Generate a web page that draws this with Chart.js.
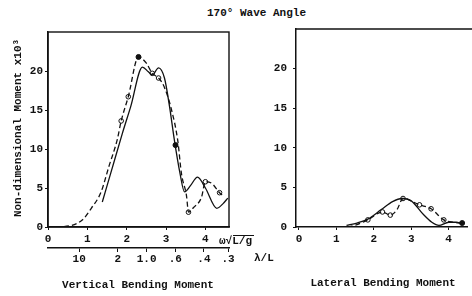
<!DOCTYPE html>
<html>
<head>
<meta charset="utf-8">
<script src="https://cdn.jsdelivr.net/npm/chart.js@4"></script>
<style>
  body { margin: 0; background: #fff; }
  #wrap { position: relative; width: 472px; height: 296px; overflow: hidden; }
  #title { position: absolute; left: 207px; top: 7px; font: bold 11px "Liberation Mono", monospace; color: #111; white-space: pre; }
  canvas { position: absolute; top: 0; }
  #vert { left: 0; }
  #lat { left: 240px; }
</style>
</head>
<body>
<div id="wrap">
  <div id="title">170° Wave Angle</div>
  <canvas id="vert" width="280" height="296"></canvas>
  <canvas id="lat" width="232" height="296"></canvas>
</div>
<script>
// Vertical bending moment - calculated (solid)
const vertCalcX = [1.38, 1.6, 1.89, 2.1, 2.4, 2.55, 2.65, 2.81, 2.96, 3.09, 3.21, 3.35, 3.47, 3.62, 3.8, 4.0, 4.29, 4.45, 4.57];
const vertCalcY = [3.2, 7.0, 12.0, 15.4, 20.5, 19.9, 19.5, 20.4, 19.1, 15.4, 11.2, 7.0, 4.5, 5.3, 6.4, 5.0, 2.4, 3.0, 3.7];
// Vertical bending moment - dashed curve
const vertTestX = [0, 0.4, 0.87, 1.1, 1.35, 1.55, 1.76, 1.86, 2.04, 2.3, 2.5, 2.65, 2.81, 2.95, 3.14, 3.3, 3.39, 3.52, 3.57, 3.7, 3.9, 4.0, 4.16, 4.36, 4.45];
const vertTestY = [0, 0.05, 0.9, 2.4, 4.5, 7.8, 11.2, 13.6, 16.7, 21.8, 21.0, 19.7, 19.1, 18.0, 15.0, 11.0, 6.9, 4.0, 1.9, 2.5, 3.8, 5.8, 5.6, 4.4, 4.0];
// measured points
const vertOpenX = [1.86, 2.04, 2.65, 2.81, 3.57, 4.0, 4.36];
const vertOpenY = [13.6, 16.7, 19.7, 19.1, 1.9, 5.8, 4.4];
const vertDotX = [2.3, 3.24];
const vertDotY = [21.8, 10.5];

// Lateral bending moment
const latCalcX = [1.27, 1.55, 1.84, 2.2, 2.5, 2.75, 3.0, 3.32, 3.55, 3.74, 4.0, 4.2, 4.36];
const latCalcY = [0.2, 0.5, 1.0, 2.2, 3.2, 3.6, 3.3, 1.6, 0.6, 0.2, 0.6, 0.6, 0.4];
const latTestX = [1.3, 1.55, 1.84, 2.23, 2.44, 2.62, 2.78, 3.22, 3.53, 3.87, 4.13, 4.36];
const latTestY = [0, 0.3, 0.9, 1.9, 1.5, 2.2, 3.6, 2.8, 2.3, 0.9, 0.6, 0.5];
const latOpenX = [1.84, 2.23, 2.44, 2.78, 3.22, 3.53, 3.87];
const latOpenY = [0.9, 1.9, 1.5, 3.6, 2.8, 2.3, 0.9];
const latDotX = [4.36];
const latDotY = [0.5];

// axis ticks
const freqTicks = [0, 1, 2, 3, 4];
const momentTicks = [0, 5, 10, 15, 20];
const lambdaVals = [10, 2, 1.0, 0.6, 0.4, 0.3];
const lambdaLabels = ['10', '2', '1.0', '.6', '.4', '.3'];

const INK = '#111';
const MONO = '"Liberation Mono", monospace';
Chart.defaults.font.family = MONO;
Chart.defaults.font.size = 11;
Chart.defaults.font.weight = 'bold';
Chart.defaults.color = INK;

function pts(xs, ys) {
    return xs.map((x, i) => ({ x: x, y: ys[i] }));
}

function makeDatasets(cx, cy, tx, ty, ox, oy, dx, dy) {
    return [
        { data: pts(cx, cy), borderColor: INK, borderWidth: 1.3, pointRadius: 0, cubicInterpolationMode: 'monotone', xAxisID: 'x' },
        { data: pts(tx, ty), borderColor: INK, borderWidth: 1.3, borderDash: [5, 3], pointRadius: 0, cubicInterpolationMode: 'monotone', xAxisID: 'x' },
        { type: 'scatter', data: pts(ox, oy), borderColor: INK, borderWidth: 1, pointRadius: 2.3, pointBackgroundColor: '#fff', xAxisID: 'x' },
        { type: 'scatter', data: pts(dx, dy), borderColor: INK, borderWidth: 1, pointRadius: 2.5, pointBackgroundColor: INK, xAxisID: 'x' }
    ];
}

function xAxis(min, max) {
    return {
        type: 'linear', position: 'bottom', min: min, max: max, weight: 0,
        border: { display: true, color: INK, width: 1.5 },
        grid: { drawOnChartArea: false, drawTicks: true, tickLength: 3, color: INK },
        ticks: { padding: 3, maxRotation: 0, autoSkip: false, callback: v => String(v) },
        afterBuildTicks: s => { s.ticks = freqTicks.map(v => ({ value: v })); },
        afterFit: s => { s.height = 21; }
    };
}

function yAxis(width, pad) {
    return {
        min: 0, max: 25,
        border: { display: true, color: INK, width: 1.5 },
        grid: { drawOnChartArea: false, drawTicks: true, tickLength: 3, color: INK },
        ticks: { padding: pad, callback: v => String(v) },
        afterBuildTicks: s => { s.ticks = momentTicks.map(v => ({ value: v })); },
        afterFit: s => { s.width = width; }
    };
}

const vertExtras = {
    id: 'vertExtras',
    afterDraw(chart) {
        const ctx = chart.ctx;
        const a = chart.chartArea;
        ctx.save();
        ctx.strokeStyle = INK;
        ctx.lineWidth = 1.4;
        ctx.strokeRect(a.left, a.top, a.right - a.left, a.bottom - a.top);
        ctx.fillStyle = INK;
        ctx.font = 'bold 11px ' + MONO;
        ctx.textBaseline = 'middle';
        // y title
        ctx.save();
        ctx.translate(18, 128);
        ctx.rotate(-Math.PI / 2);
        ctx.textAlign = 'center';
        ctx.fillText('Non-dimensional Moment x10³', 0, 0);
        ctx.restore();
        // axis names
        ctx.textAlign = 'left';
        ctx.fillText('ω√L/g', 219, 241);
        ctx.lineWidth = 1;
        ctx.beginPath();
        ctx.moveTo(233, 235.5);
        ctx.lineTo(254, 235.5);
        ctx.stroke();
        ctx.fillText('λ/L', 254, 258);
        ctx.textAlign = 'center';
        ctx.fillText('Vertical Bending Moment', 138, 285);
        ctx.restore();
    }
};

const latExtras = {
    id: 'latExtras',
    afterDraw(chart) {
        const ctx = chart.ctx;
        const a = chart.chartArea;
        ctx.save();
        ctx.strokeStyle = INK;
        ctx.lineWidth = 1.4;
        ctx.beginPath();
        ctx.moveTo(a.left, a.top);
        ctx.lineTo(chart.width, a.top);
        ctx.stroke();
        ctx.fillStyle = INK;
        ctx.font = 'bold 11px ' + MONO;
        ctx.textBaseline = 'middle';
        ctx.textAlign = 'center';
        ctx.fillText('Lateral Bending Moment', 143, 283);
        ctx.restore();
    }
};

new Chart(document.getElementById('vert'), {
    type: 'line',
    data: { datasets: makeDatasets(vertCalcX, vertCalcY, vertTestX, vertTestY, vertOpenX, vertOpenY, vertDotX, vertDotY) },
    options: {
        responsive: false,
        animation: false,
        layout: { padding: { top: 32, right: 51, bottom: 28, left: 0 } },
        plugins: { legend: { display: false }, tooltip: { enabled: false } },
        scales: {
            x: xAxis(0, 4.6),
            x2: {
                type: 'linear', position: 'bottom', min: 0, max: 4.6, weight: 1,
                border: { display: true, color: INK, width: 1.5 },
                grid: { drawOnChartArea: false, drawTicks: true, tickLength: 4, color: INK },
                ticks: { padding: 1, maxRotation: 0, autoSkip: false, callback: (v, i) => lambdaLabels[i] },
                afterBuildTicks: s => { s.ticks = lambdaVals.map(l => ({ value: Math.sqrt(2 * Math.PI / l) })); },
                afterFit: s => { s.height = 20; }
            },
            y: yAxis(48, 2)
        }
    },
    plugins: [vertExtras]
});

new Chart(document.getElementById('lat'), {
    type: 'line',
    data: { datasets: makeDatasets(latCalcX, latCalcY, latTestX, latTestY, latOpenX, latOpenY, latDotX, latDotY) },
    options: {
        responsive: false,
        animation: false,
        layout: { padding: { top: 29, right: 0, bottom: 48, left: 0 } },
        plugins: { legend: { display: false }, tooltip: { enabled: false } },
        scales: {
            x: xAxis(-0.08, 4.49),
            y: yAxis(56, 6)
        }
    },
    plugins: [latExtras]
});
</script>
</body>
</html>
